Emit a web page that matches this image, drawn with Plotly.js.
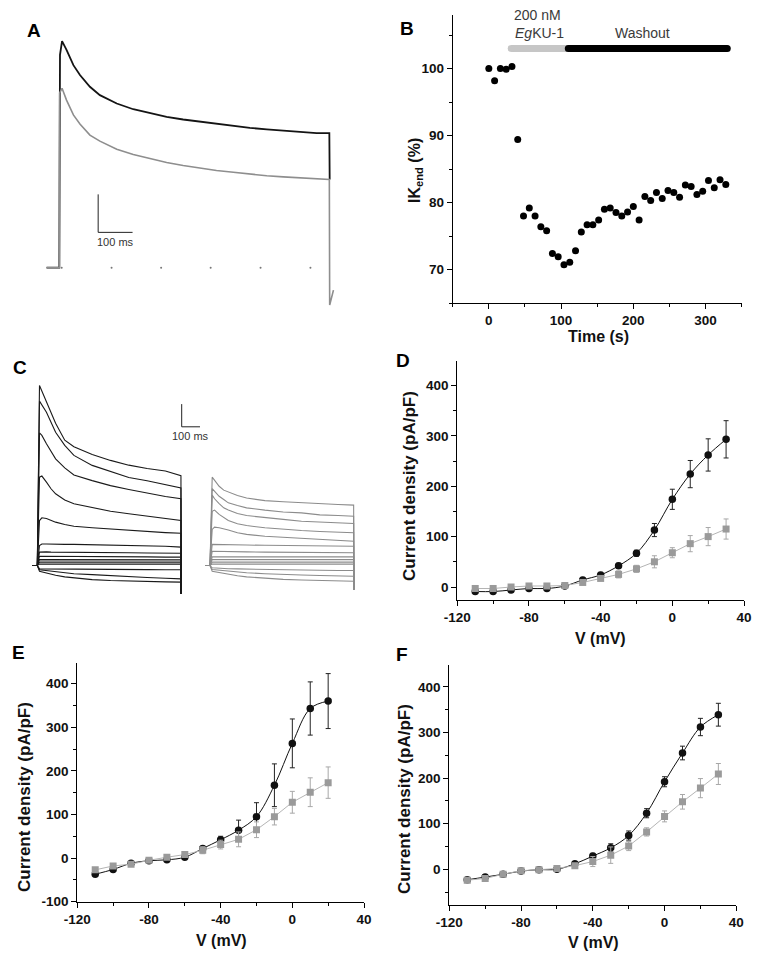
<!DOCTYPE html>
<html><head><meta charset="utf-8">
<script src="https://cdn.plot.ly/plotly-3.0.1.min.js"></script>
<style>html,body{margin:0;padding:0;background:#fff;} #chart{width:763px;height:966px;}</style>
</head><body><div id="chart"></div>
<script>
// ===== Panel A: single sweeps (time in ms, current in scale-bar units)
const tBlackA = [-37, 0, 2, 8, 21, 41, 60, 89, 118, 167, 215, 264, 312, 360, 409, 457, 506, 554, 603, 651, 700, 748, 785, 786];
const iBlackA = [0, 0, 5.6, 5.96, 5.73, 5.33, 5.07, 4.76, 4.54, 4.32, 4.17, 4.06, 3.97, 3.90, 3.84, 3.78, 3.73, 3.68, 3.64, 3.61, 3.57, 3.54, 3.54, 2.32];
const tGrayA = [-37, 0, 1, 8, 21, 41, 60, 89, 118, 167, 215, 264, 312, 360, 409, 457, 506, 554, 603, 651, 700, 748, 785, 786, 797];
const iGrayA = [0, 0, 4.6, 4.72, 4.41, 4.02, 3.78, 3.49, 3.33, 3.12, 2.98, 2.87, 2.77, 2.69, 2.62, 2.56, 2.51, 2.46, 2.42, 2.39, 2.36, 2.33, 2.32, -0.98, -0.59];
const zeroDotsA = [7, 152, 296, 440, 585, 730];

// ===== Panel B: time course
const timeB = [0, 8, 16, 24, 32, 40, 48, 56, 64, 72, 80, 88, 96, 104, 112, 120, 128, 136, 144, 152, 160, 168, 176, 184, 192, 200, 208, 216, 224, 232, 240, 248, 256, 264, 272, 280, 288, 296, 304, 312, 320, 328];
const ikEndB = [100.0, 98.2, 100.0, 99.9, 100.3, 89.4, 78.0, 79.2, 78.0, 76.4, 75.8, 72.4, 71.9, 70.7, 71.1, 72.8, 75.6, 76.7, 76.7, 77.4, 79.0, 79.2, 78.5, 78.0, 78.6, 79.4, 77.4, 80.9, 80.3, 81.5, 80.6, 81.8, 81.5, 80.8, 82.6, 82.4, 81.2, 81.7, 83.3, 82.2, 83.4, 82.7];
const toxinPeriodB = [31, 108];
const washPeriodB = [110, 330];
const periodLevelB = 103;
const timeTicksB = [0, 100, 200, 300];
const timeTickTextB = ['0', '100', '200', '300'];
const ikTicksB = [70, 80, 90, 100];
const ikTickTextB = ['70', '80', '90', '100'];

// ===== Panel C: families of sweeps (values at times tC)
const tC = [12, 25, 50, 75, 100, 150, 200, 300, 400, 500, 600, 700, 785];
const cB1 = [7.93, 7.68, 7.21, 6.68, 6.27, 5.52, 5.23, 4.89, 4.63, 4.42, 4.27, 4.16, 3.96];
const cB2 = [7.24, 7.09, 6.75, 6.31, 5.87, 5.29, 4.85, 4.41, 4.14, 3.88, 3.73, 3.57, 3.42];
const cB3 = [5.84, 5.73, 5.36, 5.00, 4.70, 4.30, 3.99, 3.74, 3.52, 3.35, 3.19, 3.04, 2.94];
const cB4 = [3.89, 3.94, 3.67, 3.38, 3.16, 2.89, 2.72, 2.57, 2.39, 2.28, 2.17, 2.09, 1.98];
const cB5 = [1.98, 2.10, 2.07, 1.98, 1.91, 1.81, 1.73, 1.66, 1.60, 1.54, 1.50, 1.45, 1.42];
const cB6 = [0.88, 0.95, 0.95, 0.94, 0.94, 0.93, 0.93, 0.92, 0.90, 0.88, 0.87, 0.85, 0.81];
const cB7 = [0.59, 0.60, 0.60, 0.59, 0.59, 0.58, 0.58, 0.57, 0.56, 0.56, 0.55, 0.55, 0.54];
const cB8 = [0.41, 0.41, 0.41, 0.40, 0.40, 0.40, 0.39, 0.39, 0.38, 0.38, 0.38, 0.37, 0.37];
const cB9 = [0.26, 0.26, 0.25, 0.25, 0.25, 0.25, 0.25, 0.25, 0.25, 0.25, 0.25, 0.25, 0.25];
const cB10 = [0.15, 0.15, 0.15, 0.15, 0.15, 0.15, 0.15, 0.15, 0.15, 0.15, 0.15, 0.15, 0.15];
const cB11 = [0.06, 0.06, 0.06, 0.06, 0.06, 0.06, 0.06, 0.06, 0.06, 0.06, 0.06, 0.06, 0.06];
const cB12 = [-0.15, -0.15, -0.15, -0.16, -0.16, -0.16, -0.17, -0.17, -0.18, -0.18, -0.18, -0.19, -0.19];
const cB13 = [-0.19, -0.20, -0.22, -0.25, -0.28, -0.32, -0.36, -0.40, -0.45, -0.49, -0.53, -0.56, -0.59];
const cB14 = [-0.25, -0.28, -0.33, -0.38, -0.43, -0.50, -0.55, -0.62, -0.66, -0.69, -0.71, -0.72, -0.73];
const cG1 = [3.89, 3.74, 3.49, 3.32, 3.23, 3.08, 2.97, 2.86, 2.81, 2.78, 2.73, 2.69, 2.66];
const cG2 = [3.39, 3.27, 3.05, 2.91, 2.76, 2.64, 2.54, 2.44, 2.36, 2.32, 2.23, 2.20, 2.17];
const cG3 = [3.10, 2.94, 2.73, 2.54, 2.44, 2.29, 2.20, 2.10, 2.03, 1.95, 1.91, 1.88, 1.85];
const cG4 = [2.39, 2.44, 2.25, 2.10, 1.98, 1.84, 1.76, 1.66, 1.59, 1.54, 1.50, 1.47, 1.44];
const cG5 = [1.59, 1.69, 1.66, 1.62, 1.56, 1.44, 1.37, 1.29, 1.25, 1.19, 1.15, 1.10, 1.07];
const cG6 = [0.93, 0.93, 0.92, 0.92, 0.91, 0.91, 0.90, 0.89, 0.88, 0.87, 0.86, 0.86, 0.85];
const cG7 = [0.63, 0.63, 0.62, 0.62, 0.61, 0.61, 0.60, 0.59, 0.58, 0.58, 0.57, 0.57, 0.56];
const cG8 = [0.38, 0.38, 0.38, 0.38, 0.38, 0.38, 0.38, 0.38, 0.38, 0.38, 0.38, 0.38, 0.38];
const cG9 = [0.26, 0.26, 0.26, 0.26, 0.26, 0.26, 0.26, 0.26, 0.26, 0.26, 0.26, 0.26, 0.26];
const cG10 = [0.15, 0.15, 0.15, 0.15, 0.15, 0.15, 0.15, 0.15, 0.15, 0.15, 0.15, 0.15, 0.15];
const cG11 = [0.06, 0.06, 0.06, 0.06, 0.06, 0.06, 0.06, 0.06, 0.06, 0.06, 0.06, 0.06, 0.06];
const cG12 = [-0.10, -0.11, -0.12, -0.13, -0.14, -0.15, -0.16, -0.18, -0.19, -0.20, -0.21, -0.22, -0.22];
const cG13 = [-0.18, -0.19, -0.21, -0.23, -0.25, -0.29, -0.32, -0.36, -0.40, -0.42, -0.44, -0.46, -0.47];
const cG14 = [-0.25, -0.27, -0.31, -0.35, -0.39, -0.45, -0.50, -0.57, -0.61, -0.64, -0.66, -0.68, -0.69];
const holdTimesC = [-25, 0];
const tailTimeC = 786;
const tailBlackC = -1.25;
const tailGrayC = -1.06;

// ===== Panels D, E, F: I-V relations (control vs toxin)
const vD = [-110, -100, -90, -80, -70, -60, -50, -40, -30, -20, -10, 0, 10, 20, 30];
const ctrlD = [-9, -9, -6, -3, -3, 2, 14, 24, 42, 67, 113, 174, 224, 262, 293];
const ctrlErrD = [4, 4, 4, 4, 4, 4, 5, 5, 5, 6, 13, 20, 27, 32, 37];
const toxD = [-3, -3, 0, 2, 2, 3, 9, 17, 25, 36, 50, 68, 86, 100, 115];
const toxErrD = [6, 6, 5, 5, 5, 4, 4, 4, 7, 7, 12, 10, 16, 18, 20];

const vE = [-110, -100, -90, -80, -70, -60, -50, -40, -30, -20, -10, 0, 10, 20];
const ctrlE = [-37, -26, -12, -6, -4, 2, 22, 42, 64, 95, 167, 263, 343, 360];
const ctrlErrE = [4, 4, 4, 4, 4, 4, 5, 8, 23, 32, 49, 56, 61, 63];
const toxE = [-27, -18, -14, -5, 2, 8, 18, 31, 43, 65, 95, 128, 151, 173];
const toxErrE = [4, 4, 4, 4, 4, 5, 8, 10, 17, 18, 19, 25, 33, 36];

const vF = [-110, -100, -90, -80, -70, -60, -50, -40, -30, -20, -10, 0, 10, 20, 30];
const ctrlF = [-23, -17, -11, -4, -1, 0, 12, 29, 47, 74, 123, 192, 255, 312, 339];
const ctrlErrF = [4, 5, 4, 3, 3, 3, 4, 6, 9, 10, 10, 11, 15, 19, 25];
const toxF = [-24, -20, -11, -3, -1, 2, 8, 17, 31, 51, 82, 116, 148, 178, 209];
const toxErrF = [4, 4, 4, 3, 3, 4, 5, 11, 18, 10, 9, 12, 16, 21, 23];

const vTicks = [-120, -80, -40, 0, 40];
const vTickText = ['-120', '-80', '-40', '0', '40'];
const densTicksDF = [0, 100, 200, 300, 400];
const densTickTextDF = ['0', '100', '200', '300', '400'];
const densTicksE = [-100, 0, 100, 200, 300, 400];
const densTickTextE = ['-100', '0', '100', '200', '300', '400'];

// ===== helpers
const W = 763, H = 966;
const FONT = 'Liberation Sans, Arial, Helvetica, sans-serif';
const xd = (a, b) => [a / W, b / W];
const yd = (top, bot) => [1 - bot / H, 1 - top / H];
const xp = px => px / W;
const yp = px => 1 - px / H;

const BLACK = '#111111';
const GRAYM = '#9a9a9a';
const GRAYL = '#b4b4b4';

const traces = [];

// Panel A
traces.push({x: tBlackA, y: iBlackA, xaxis: 'x', yaxis: 'y', mode: 'lines', line: {color: '#141414', width: 1.8}, hoverinfo: 'skip'});
traces.push({x: tGrayA, y: iGrayA, xaxis: 'x', yaxis: 'y', mode: 'lines', line: {color: '#8e8e8e', width: 1.6}, hoverinfo: 'skip'});
traces.push({x: zeroDotsA, y: zeroDotsA.map(() => 0), xaxis: 'x', yaxis: 'y', mode: 'markers', marker: {color: '#777', size: 2}, hoverinfo: 'skip'});

// Panel B
traces.push({x: toxinPeriodB, y: [periodLevelB, periodLevelB], xaxis: 'x2', yaxis: 'y2', mode: 'lines+markers', line: {color: '#c6c6c6', width: 7}, marker: {color: '#c6c6c6', size: 7}, hoverinfo: 'skip'});
traces.push({x: washPeriodB, y: [periodLevelB, periodLevelB], xaxis: 'x2', yaxis: 'y2', mode: 'lines+markers', line: {color: '#000', width: 7}, marker: {color: '#000', size: 7}, hoverinfo: 'skip'});
traces.push({x: timeB, y: ikEndB, xaxis: 'x2', yaxis: 'y2', mode: 'markers', marker: {color: '#000', size: 7}, hoverinfo: 'skip'});

// Panel C
function sweep(vals, tail) {
  return {
    x: holdTimesC.concat(tC, [tailTimeC]),
    y: [0, 0].concat(vals, [tail])
  };
}
[cB14, cB13, cB12, cB11, cB10, cB9, cB8, cB7, cB6, cB5, cB4, cB3, cB2, cB1].forEach(v => {
  const s = sweep(v, tailBlackC);
  traces.push({x: s.x, y: s.y, xaxis: 'x3', yaxis: 'y3', mode: 'lines', line: {color: '#1a1a1a', width: 1.1}, hoverinfo: 'skip'});
});
[cG14, cG13, cG12, cG11, cG10, cG9, cG8, cG7, cG6, cG5, cG4, cG3, cG2, cG1].forEach(v => {
  const s = sweep(v, tailGrayC);
  traces.push({x: s.x, y: s.y, xaxis: 'x4', yaxis: 'y3', mode: 'lines', line: {color: '#8c8c8c', width: 1.1}, hoverinfo: 'skip'});
});

// Panels D E F
function ivPair(v, c, ce, t, te, xa, ya) {
  traces.push({x: v, y: c, xaxis: xa, yaxis: ya, mode: 'lines+markers',
    line: {color: BLACK, width: 1, shape: 'spline', smoothing: 1},
    marker: {color: BLACK, size: 7.5, symbol: 'circle'},
    error_y: {type: 'data', array: ce, visible: true, color: '#222', thickness: 1, width: 2.5},
    hoverinfo: 'skip'});
  traces.push({x: v, y: t, xaxis: xa, yaxis: ya, mode: 'lines+markers',
    line: {color: GRAYL, width: 1},
    marker: {color: GRAYM, size: 7, symbol: 'square'},
    error_y: {type: 'data', array: te, visible: true, color: '#a8a8a8', thickness: 1, width: 2.5},
    hoverinfo: 'skip'});
}
ivPair(vD, ctrlD, ctrlErrD, toxD, toxErrD, 'x5', 'y5');
ivPair(vE, ctrlE, ctrlErrE, toxE, toxErrE, 'x6', 'y6');
ivPair(vF, ctrlF, ctrlErrF, toxF, toxErrF, 'x7', 'y7');

// axes
const tickFont = {family: FONT, size: 13.5, color: '#111', weight: 700};
function visAxis(extra) {
  return Object.assign({
    showline: true, linecolor: '#000', linewidth: 1, mirror: false,
    showgrid: false, zeroline: false, ticks: 'outside', ticklen: 5, tickwidth: 1, tickcolor: '#000',
    tickfont: tickFont, fixedrange: true, tickmode: 'array'
  }, extra);
}
const hidden = (extra) => Object.assign({visible: false, showgrid: false, zeroline: false, fixedrange: true}, extra);
const minorTicks = (d) => ({dtick: d, tick0: 0, ticks: 'outside', ticklen: 3, tickcolor: '#000', tickwidth: 1});

const layout = {
  width: W, height: H,
  margin: {l: 0, r: 0, t: 0, b: 0},
  paper_bgcolor: '#fff', plot_bgcolor: 'rgba(0,0,0,0)',
  showlegend: false,
  font: {family: FONT, color: '#111'},
  xaxis: hidden({domain: xd(40, 340), range: [-56.1, 816], anchor: 'y'}),
  yaxis: hidden({domain: yd(30, 310), range: [-1.113, 6.255], anchor: 'x'}),
  xaxis2: visAxis({domain: xd(452.7, 741.7), range: [-50, 350], anchor: 'y2', tickvals: timeTicksB, ticktext: timeTickTextB, minor: minorTicks(50)}),
  yaxis2: visAxis({domain: yd(15, 303), range: [65, 108], anchor: 'x2', tickvals: ikTicksB, ticktext: ikTickTextB, minor: minorTicks(5)}),
  xaxis3: hidden({domain: xd(28, 205), range: [-50.8, 916.4], anchor: 'y3'}),
  xaxis4: hidden({domain: xd(200.7, 377.7), range: [-50.8, 916.4], anchor: 'y3'}),
  yaxis3: hidden({domain: yd(370, 610), range: [-1.96, 8.612], anchor: 'x3'}),
  shapes: [],
  annotations: []
};
function ivAxes(n, xpx, ypx, yr, yt, ytt) {
  layout['xaxis' + n] = visAxis({domain: xd(xpx[0], xpx[1]), range: [-120, 40], anchor: 'y' + n, tickvals: vTicks, ticktext: vTickText, minor: minorTicks(20)});
  layout['yaxis' + n] = visAxis({domain: yd(ypx[0], ypx[1]), range: yr, anchor: 'x' + n, tickvals: yt, ticktext: ytt, minor: minorTicks(50)});
}
ivAxes(5, [457.3, 744], [360.7, 600], [-25.8, 449], densTicksDF, densTickTextDF);
ivAxes(6, [77.3, 364], [662.7, 901.7], [-100, 448], densTicksE, densTickTextE);
ivAxes(7, [449.3, 736.3], [665, 905], [-78.3, 448], densTicksDF, densTickTextDF);

// scale bars (A and C)
const scaleA = {t: 113, v: 0.93, dt: 100, dv: 1};
const scaleC = {t: 789, v: 6.11, dt: 100, dv: 1};
function scaleBar(s, xr, yr) {
  layout.shapes.push({type: 'line', xref: xr, yref: yr, x0: s.t, x1: s.t, y0: s.v, y1: s.v + s.dv, line: {color: '#222', width: 1}});
  layout.shapes.push({type: 'line', xref: xr, yref: yr, x0: s.t, x1: s.t + s.dt, y0: s.v, y1: s.v, line: {color: '#222', width: 1}});
}
scaleBar(scaleA, 'x', 'y');
scaleBar(scaleC, 'x3', 'y3');

const ann = (text, x, y, opt) => layout.annotations.push(Object.assign({
  text, x: xp(x), y: yp(y), xref: 'paper', yref: 'paper', showarrow: false,
  xanchor: 'center', yanchor: 'middle', font: {family: FONT, size: 16, color: '#111', weight: 700}
}, opt || {}));

// scale bar labels
ann('100 ms', 115, 242, {font: {family: FONT, size: 11, color: '#333'}});
ann('100 ms', 190.5, 436, {font: {family: FONT, size: 11, color: '#333'}});

// panel letters
const letterFont = {family: FONT, size: 19, color: '#000', weight: 700};
ann('A', 34, 31, {font: letterFont});
ann('B', 407, 28, {font: letterFont});
ann('C', 20, 367, {font: letterFont});
ann('D', 403, 361, {font: letterFont});
ann('E', 18, 652, {font: letterFont});
ann('F', 402, 654, {font: letterFont});

// panel B labels
const noteFont = {family: FONT, size: 14, color: '#3a3a3a'};
ann('200 nM', 537, 15, {font: noteFont});
ann('<i>Eg</i>KU-1', 539, 33, {font: noteFont});
ann('Washout', 642, 33, {font: noteFont});

// axis titles
const titleFont = {family: FONT, size: 16, color: '#111', weight: 700};
const ytFont = {family: FONT, size: 17, color: '#111', weight: 700};
ann('Time (s)', 598, 336, {font: titleFont});
ann('IK<sub>end</sub> (%)', 415, 171, {font: titleFont, textangle: -90});
ann('V (mV)', 600, 638, {font: titleFont});
ann('Current density (pA/pF)', 409.5, 486.5, {font: ytFont, textangle: -90});
ann('V (mV)', 221, 940, {font: titleFont});
ann('Current density (pA/pF)', 24, 797, {font: ytFont, textangle: -90});
ann('V (mV)', 593, 942, {font: titleFont});
ann('Current density (pA/pF)', 404, 799, {font: ytFont, textangle: -90});

Plotly.newPlot('chart', traces, layout, {staticPlot: true, displayModeBar: false});
</script>
</body></html>
